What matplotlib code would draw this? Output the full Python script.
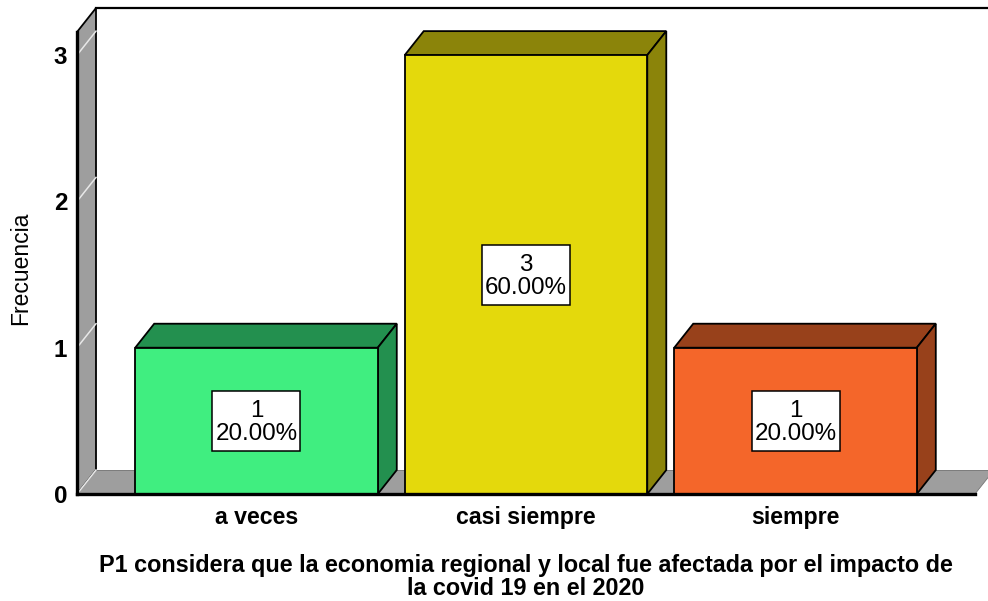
import matplotlib
matplotlib.use('Agg')
import matplotlib.pyplot as plt
from matplotlib.patches import Polygon, Rectangle

plt.rcParams['font.family'] = ['Liberation Sans', 'DejaVu Sans']

# Data
categories = ['a veces', 'casi siempre', 'siempre']
frecuencia = [1, 3, 1]
porcentaje = ['20.00%', '60.00%', '20.00%']
front_colors = ['#40EE80', '#E4D90C', '#F4662A']
side_colors = ['#23904F', '#8B840A', '#98411B']
y_ticks = [0, 1, 2, 3]
xlabel = 'P1 considera que la economia regional y local fue afectada por el impacto de\nla covid 19 en el 2020'

W, H = 988, 601
fig = plt.figure(figsize=(W / 100, H / 100), dpi=100)
ax = fig.add_axes([77 / W, 1 - 494 / H, 898 / W, 462 / H])
ax.set_xlim(-0.666, 2.666)
ax.set_ylim(0, 3.158)
for s in ax.spines.values():
    s.set_visible(False)

# depth of the fake 3d, in data units
dx = 0.0705
dy = 0.164
bar_w = 0.9
box_w = 0.3265
box_h = 0.41
x_l, x_r = ax.get_xlim()
y_top = ax.get_ylim()[1]
gray = '#9E9E9E'


def poly(pts, fc, ec='black', lw=1.3, z=2):
    ax.add_patch(Polygon(pts, closed=True, facecolor=fc, edgecolor=ec, linewidth=lw,
                         joinstyle='miter', clip_on=False, zorder=z))


# back wall and floor
poly([(x_l, 0), (x_l + dx, dy), (x_l + dx, y_top + dy), (x_l, y_top)], gray, z=1)
poly([(x_l, 0), (x_l + dx, dy), (x_r + dx, dy), (x_r, 0)], gray, ec='none', z=1)
ax.plot([x_l + dx, x_r + dx], [y_top + dy, y_top + dy], color='black', lw=1.6, clip_on=False, zorder=1)
ax.plot([x_l + dx, x_r + dx], [dy, dy], color='#777777', lw=0.6, clip_on=False, zorder=1)
ax.plot([x_r, x_r + dx], [0, dy], color='#777777', lw=0.6, clip_on=False, zorder=1)

# grid lines on the wall
for t in y_ticks:
    ax.plot([x_l, x_l + dx], [t, t + dy], color='#E8E8E8', lw=1.1, clip_on=False, zorder=1.5)

# bars
for i, v in enumerate(frecuencia):
    l, r = i - bar_w / 2, i + bar_w / 2
    poly([(l, v), (l + dx, v + dy), (r + dx, v + dy), (r, v)], side_colors[i])
    poly([(r, 0), (r + dx, dy), (r + dx, v + dy), (r, v)], side_colors[i])
    ax.bar(i, v, width=bar_w, color=front_colors[i], edgecolor='black', linewidth=1.3, zorder=3)
    ax.add_patch(Rectangle((i - box_w / 2, v / 2 - box_h / 2), box_w, box_h, facecolor='white',
                           edgecolor='black', linewidth=1.1, zorder=4))
    ax.text(i, v / 2 - 0.012, f'{v}\n{porcentaje[i]}', ha='center', va='center', fontsize=17.4,
            linespacing=1.08, color='black', zorder=5)

# heavy front edges
ax.plot([x_l, x_r], [0, 0], color='black', lw=2.4, clip_on=False, zorder=3.5)
ax.plot([x_l, x_l], [0, y_top], color='black', lw=2.4, clip_on=False, zorder=2.5)

ax.set_xticks(range(len(categories)), categories)
ax.set_yticks(y_ticks)
ax.tick_params(length=0)
ax.tick_params(axis='x', pad=8.5, labelsize=16.7)
ax.tick_params(axis='y', pad=7, labelsize=17.5)
for lab in ax.get_xticklabels() + ax.get_yticklabels():
    lab.set_fontweight('bold')
    lab.set_color('black')

fig.text(21 / W, 1 - 268 / H, 'Frecuencia', rotation=90, ha='center', va='center', fontsize=16.5, color='black')
fig.text(526 / W, 1 - 577 / H, xlabel, ha='center', va='center', fontsize=16.8, fontweight='bold',
         linespacing=0.95, color='black')

fig.savefig('out.png', dpi=100)
